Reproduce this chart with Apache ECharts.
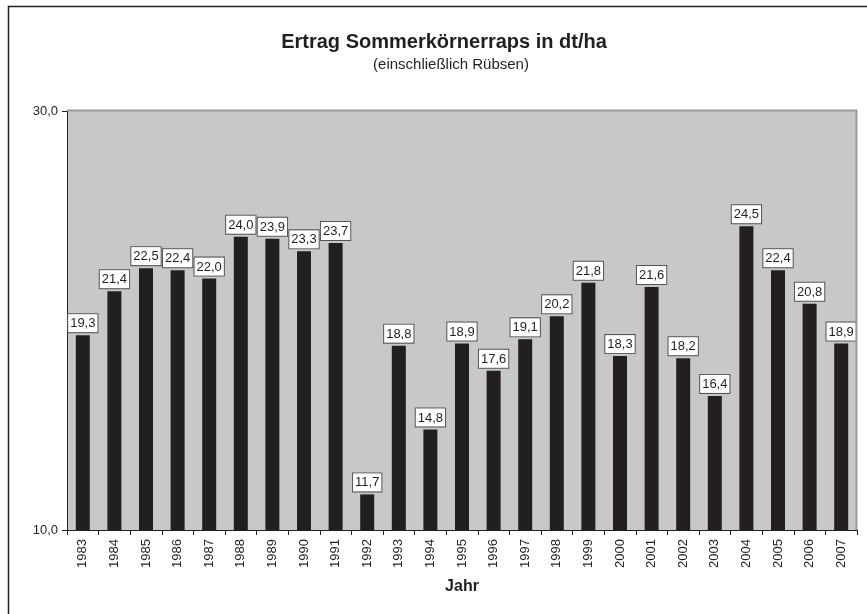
<!DOCTYPE html>
<html><head><meta charset="utf-8">
<script src="https://cdn.jsdelivr.net/npm/echarts@6/dist/echarts.min.js"></script>
<style>html,body{margin:0;padding:0;background:#fff}#c{width:867px;height:614px}</style>
</head><body><div id="c"></div>
<script>
const years = ['1983','1984','1985','1986','1987','1988','1989','1990','1991','1992','1993','1994','1995','1996','1997','1998','1999','2000','2001','2002','2003','2004','2005','2006','2007'];
const yields = [19.3,21.4,22.5,22.4,22.0,24.0,23.9,23.3,23.7,11.7,18.8,14.8,18.9,17.6,19.1,20.2,21.8,18.3,21.6,18.2,16.4,24.5,22.4,20.8,18.9];
const yMin = 10, yMax = 30, yStep = 20;
const titleText = 'Ertrag Sommerkörnerraps in dt/ha';
const subText = '(einschließlich Rübsen)';
const xName = 'Jahr';

const fmt = v => Number(v).toFixed(1).replace('.', ',');
const chart = echarts.init(document.getElementById('c'), null, {renderer:'canvas'});
chart.setOption({
  animation:false,
  textStyle:{fontFamily:'Liberation Sans, Arial, sans-serif'},
  title:[
    {text:titleText, left:444, textAlign:'center', top:32, padding:0,
     textStyle:{fontSize:20, fontWeight:'bold', color:'#231f20', fontFamily:'Liberation Sans'}},
    {text:subText, left:451, textAlign:'center', top:57, padding:0,
     textStyle:{fontSize:15, fontWeight:'normal', color:'#231f20', fontFamily:'Liberation Sans'}}
  ],
  grid:{left:67, top:111, right:10, bottom:84, show:true, backgroundColor:'#c8c8c9', borderWidth:0},
  xAxis:{type:'category', data:years, name:xName, nameLocation:'middle', nameGap:49,
    nameTextStyle:{fontSize:16, fontWeight:'bold', color:'#231f20', fontFamily:'Liberation Sans'},
    axisLine:{lineStyle:{color:'#231f20', width:1}},
    axisTick:{show:true, alignWithLabel:false, length:5, lineStyle:{color:'#231f20'}},
    axisLabel:{rotate:90, fontSize:13, color:'#231f20', margin:9, fontFamily:'Liberation Sans'}},
  yAxis:{type:'value', min:yMin, max:yMax, interval:yStep,
    axisLine:{show:true, lineStyle:{color:'#231f20'}},
    axisTick:{show:true, length:5, lineStyle:{color:'#231f20'}},
    splitLine:{show:false},
    axisLabel:{formatter:fmt, fontSize:13, color:'#231f20', margin:9, fontFamily:'Liberation Sans'}},
  series:[{type:'bar', data:yields, barWidth:14, itemStyle:{color:'#231f20'},
    label:{show:true, position:'top', distance:3, formatter:p=>fmt(p.value), fontSize:13, color:'#231f20',
      backgroundColor:'#ffffff', borderColor:'#555', borderWidth:1, padding:[3,2,2,2], fontFamily:'Liberation Sans'}}],
  graphic:[
    {type:'rect', shape:{x:8.5, y:6.5, width:900, height:700}, style:{fill:null, stroke:'#231f20', lineWidth:1.5}, z:-10, silent:true},
    {type:'polyline', shape:{points:[[67,110.5],[856.5,110.5],[856.5,530]]}, style:{fill:null, stroke:'#999', lineWidth:2}, z:10, silent:true}
  ]
});
</script></body></html>
